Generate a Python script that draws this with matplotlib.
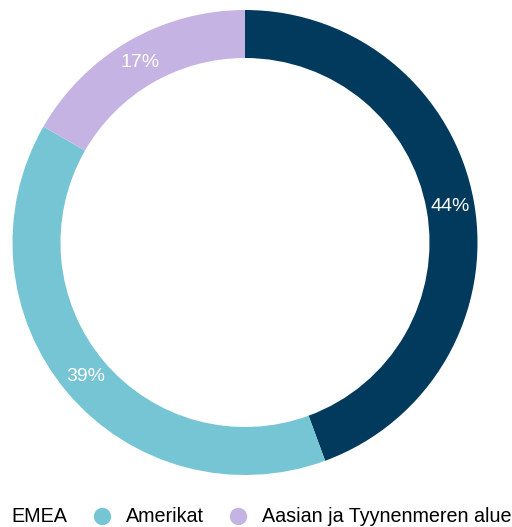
import matplotlib
matplotlib.use("Agg")
import matplotlib.pyplot as plt
from matplotlib.lines import Line2D

categories = ["EMEA", "Amerikat", "Aasian ja Tyynenmeren alue"]
values = [44.4, 38.9, 16.7]
colors = ["#023a5e", "#76c5d5", "#c5b4e3"]

plt.rcParams['font.family'] = ['Liberation Sans', 'DejaVu Sans']

fig = plt.figure(figsize=(5.12, 5.27), dpi=100)
ax = fig.add_axes([0, 0, 1, 1])
ax.set_xlim(0, 512)
ax.set_ylim(0, 527)
ax.set_aspect('equal')
ax.axis('off')

R = 232.5
W = 48
wedges, texts = ax.pie(values, colors=colors, startangle=90, counterclock=False,
                       radius=R, center=(245, 527 - 242.5),
                       labels=[f"{round(v)}%" for v in values],
                       labeldistance=(R - W / 2) / R,
                       wedgeprops=dict(width=W, edgecolor='none'),
                       textprops=dict(color='white', fontsize=14, ha='center', va='center'))
ax.set_xlim(0, 512)
ax.set_ylim(0, 527)

fs = 14.2
handles = [Line2D([0], [0], marker='o', linestyle='none', markersize=12.5,
                  markerfacecolor=c, markeredgecolor='none') for c in colors]
fig.legend(handles, categories, loc='center left',
           bbox_to_anchor=(-22.5 / 512, 1 - 517 / 527),
           ncol=3, frameon=False, fontsize=fs, handletextpad=0.72, columnspacing=1.25,
           handlelength=1.0, borderpad=0, borderaxespad=0)

fig.savefig("out.png", dpi=100)
